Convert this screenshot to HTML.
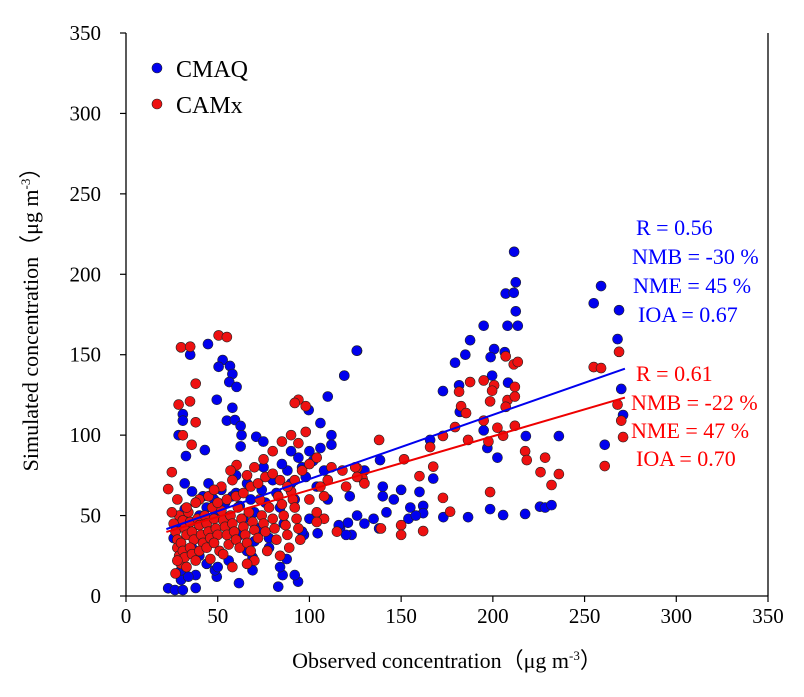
<!DOCTYPE html>
<html><head><meta charset="utf-8"><style>
html,body{margin:0;padding:0;background:#fff;}
svg{display:block;font-family:"Liberation Serif",serif;}
</style></head><body>
<svg id="chart" width="804" height="697" viewBox="0 0 804 697" xmlns="http://www.w3.org/2000/svg">
<g id="axes"></g>
<g id="fits"></g>
<g id="pts"></g>
<g>
<circle cx="157" cy="68" r="5" fill="#0000ee" stroke="#222" stroke-width="0.6"/>
<text x="176" y="77" font-size="24">CMAQ</text>
<circle cx="157" cy="104" r="5" fill="#ee1111" stroke="#222" stroke-width="0.6"/>
<text x="176" y="113" font-size="24">CAMx</text>
</g>
<g fill="#0000ff" font-size="22">
<text x="636" y="235">R = 0.56</text>
<text x="632" y="264">NMB = -30 %</text>
<text x="633" y="293">NME = 45 %</text>
<text x="638" y="322">IOA = 0.67</text>
</g>
<g fill="#ff0000" font-size="22">
<text x="636" y="381">R = 0.61</text>
<text x="631" y="410">NMB = -22 %</text>
<text x="631" y="438">NME = 47 %</text>
<text x="636" y="466">IOA = 0.70</text>
</g>
<text x="447" y="668" font-size="22" text-anchor="middle">Observed concentration（μg m<tspan font-size="13" dy="-8">-3</tspan><tspan dy="8">）</tspan></text>
<text transform="translate(38,314) rotate(-90)" font-size="22" text-anchor="middle">Simulated concentration（μg m<tspan font-size="13" dy="-8">-3</tspan><tspan dy="8">）</tspan></text>
</svg>
<script>
const xTicks=[0,50,100,150,200,250,300,350];
const yTicks=[0,50,100,150,200,250,300,350];
const cmaqX=[211.6,212.5,207,211.4,212.5,195,208,213.6,187.6,185,179.4,200.7,198.8,206.5,181.6,199.6,208.3,172.8,182,195,197,202.5,218,236,165.8,259,255,268.8,268,270,271,261,198.5,205.6,217.6,225.7,228.5,232,186.5,173,162,162,154,167.5,160,126,119,138.5,44.7,35,52.7,50.5,56.7,58,56.3,60.3,49.5,58,31,31,55,59.4,62.5,63,62.5,28.7,32.7,43,125.8,119,110,99.6,106,71,74.9,23,26.7,31,38,61.6,83,93.8,92,85.4,69,69,49.5,48.5,38,30,87.6,97,104.5,121,123,116.7,26,28,30,32,34,36,38,40,42,44,46,48,50,52,54,56,58,60,62,64,66,68,70,72,74,76,78,80,82,84,86,88,90,92,94,96,98,100,102,104,106,108,110,70,66,62,56,50,44,40,34,30,84,78,96,100,112,116,120,122,126,130,135,138,142,140,146,150,155,158,36,32,45,60,75,85,90,112,130,140];
const cmaqY=[214,195,188,188.5,177,168,168,168,159,150,145,153.5,148.5,151.6,131,137,132.6,127.4,114.5,103,92,86,99.4,99.4,97,192.7,182,177.7,159.7,128.7,112.5,94,54,50.3,51,55.5,55,56.5,49,49,56,51.5,48,73,64.7,152.5,137,84.5,156.6,150,146.7,142.5,143,138,133,130,122,117,113,109,109,109.4,105.7,100,93,100,87,90.7,152.5,137,124,115.6,107.5,99,96,4.8,3.7,3.7,5,8,5.8,8.9,13,13,16,24,12,16,13,10,23,38,39,45.5,38,42,36,42,48,54,45,30,58,50,62,55,40,60,52,66,58,45,62,64,56,48,70,60,52,42,66,58,36,72,64,55,45,78,70,60,86,80,74,90,84,68,92,78,60,34,28,38,22,18,20,25,12,16,18,30,40,48,100,44,38,62,50,45,48,42,52,62,60,66,55,50,65,70,70,75,80,82,90,94,78,68];
const camxX=[268.8,255,259,268,270,271,261,207,211.4,213.6,187.6,195,200.7,199.6,181.6,182.7,185.4,198.5,208,207,212,212,195,202.5,205.6,212,197.6,179.4,186.5,172.8,165.8,217.6,218.5,228.5,226,236,232,198.5,167.5,160,172.8,176.7,162,150,150,139,151.6,138,126,129,30,35,50.5,55,38,28.7,34.9,38,31,35.8,25,23,60.3,57,26,27,28,28,29,30,29,31,32,33,30,31,32,33,27,28,34,35,36,37,35,36,38,39,40,41,42,40,43,44,45,46,44,47,48,49,50,48,51,52,53,54,55,56,53,57,58,59,60,62,61,63,64,65,66,68,67,69,70,72,73,74,75,76,77,78,80,81,82,84,83,85,86,87,88,89,90,91,92,93,94,95,70,66,58,46,40,45,50,55,60,64,68,72,76,80,84,88,92,96,100,104,94,90,98,85,80,75,70,66,58,52,48,38,33,28,25,100,104,108,106,110,98,94,92,108,104,115,120,118,125,126,130,112];
const camxY=[151.8,142.3,141.7,119,109,98.8,80.8,149,144,145.5,133,134,131,127.6,127,118,113.7,121,121.8,117.6,124,130,109,104.6,99.6,105.8,96,105,97,99.5,92.6,90,84.5,86,77,75.8,69,64.6,80.4,74.5,61,52.4,40.4,44,38,42,85,97,79.5,73,154.6,155,162,161,132,119,121,108,99.9,94,77,66.5,81.4,78,45,40,35,30,25,20,50,47,42,38,33,28,24,18,14,22,52,46,40,35,30,26,22,48,44,38,33,28,50,45,40,36,30,55,48,42,38,33,28,53,47,43,38,32,26,50,45,40,35,30,55,48,43,38,33,28,52,46,41,36,60,50,45,40,28,55,48,42,35,25,62,57,50,44,38,30,65,60,55,48,42,35,22,20,18,23,60,62,58,60,62,64,68,70,74,76,72,68,72,78,82,86,95,100,102,96,90,85,80,75,72,68,66,58,55,60,52,60,52,48,68,72,118,122,120,62,46,40,68,78,80,74,70,80];
const fitSlope=[0.399,0.334];
const fitIntercept=[32.8,32.5];
const fitRange=[22,272];

const X0=126,X1=768,Y0=596,Y1=33;
const sx=v=>X0+(v-0)*(X1-X0)/350;
const sy=v=>Y0-(v-0)*(Y0-Y1)/350;
const NS="http://www.w3.org/2000/svg";
function mk(tag,attrs,parent){const e=document.createElementNS(NS,tag);for(const k in attrs)e.setAttribute(k,attrs[k]);parent.appendChild(e);return e;}
const axes=document.getElementById('axes');
let l=mk('line',{x1:X0,y1:Y1,x2:X0,y2:Y0,stroke:'#000','stroke-width':1.3},axes);


l=mk('line',{x1:X0,y1:Y0,x2:X1,y2:Y0,stroke:'#000','stroke-width':1.3},axes);


l=mk('line',{x1:X1,y1:Y1,x2:X1,y2:Y0,stroke:'#000','stroke-width':1.3},axes);


xTicks.forEach(v=>{
  const t=mk('line',{x1:sx(v),y1:Y0,x2:sx(v),y2:Y0+6,stroke:'#000','stroke-width':1.2},axes);
  
  
  const s=mk('text',{x:sx(v),y:Y0+27,'font-size':21,'text-anchor':'middle'},axes);
  s.textContent=v;
  
  
});
yTicks.forEach(v=>{
  const t=mk('line',{x1:X0-6,y1:sy(v),x2:X0,y2:sy(v),stroke:'#000','stroke-width':1.2},axes);
  
  
  const s=mk('text',{x:X0-25,y:sy(v)+7,'font-size':21,'text-anchor':'end'},axes);
  s.textContent=v;
  
  
});
const pts=document.getElementById('pts');
function series(xs,ys,fill,name){
  xs.forEach((x,i)=>{
    const c=mk('circle',{cx:sx(x),cy:sy(ys[i]),r:5,fill:fill,stroke:'#222','stroke-width':0.6},pts);
    
    
  });
}
series(cmaqX,cmaqY,'#0000ee','cmaq-point');
series(camxX,camxY,'#ee1111','camx-point');
const fits=document.getElementById('fits');
const fc=['#0000ee','#ee0000'],fn=['cmaq-fit-line','camx-fit-line'];
fitSlope.forEach((m,i)=>{
  const f=mk('line',{x1:sx(fitRange[0]),y1:sy(fitIntercept[i]+m*fitRange[0]),x2:sx(fitRange[1]),y2:sy(fitIntercept[i]+m*fitRange[1]),stroke:fc[i],'stroke-width':2},fits);
  
  
});
document.getElementById('chart').appendChild(fits);
</script>
</body></html>
